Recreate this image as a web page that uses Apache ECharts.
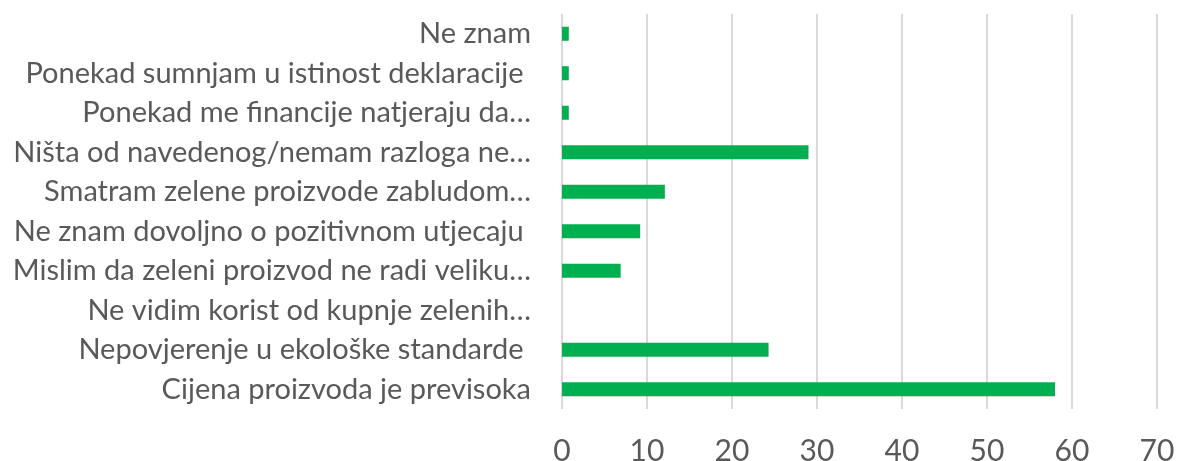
<!DOCTYPE html>
<html>
<head>
<meta charset="utf-8">
<script src="https://cdn.jsdelivr.net/npm/echarts@6/dist/echarts.min.js"></script>
<style>
  html, body { margin: 0; padding: 0; background: #fff; }
  #chart { width: 1181px; height: 461px; }
</style>
</head>
<body>
<div id="chart"></div>
<script>
// categories top to bottom, as in the picture
const categories = [
  'Ne znam',
  'Ponekad sumnjam u istinost deklaracije ',
  'Ponekad me financije natjeraju da…',
  'Ništa od navedenog/nemam razloga ne…',
  'Smatram zelene proizvode zabludom…',
  'Ne znam dovoljno o pozitivnom utjecaju ',
  'Mislim da zeleni proizvod ne radi veliku…',
  'Ne vidim korist od kupnje zelenih…',
  'Nepovjerenje u ekološke standarde ',
  'Cijena proizvoda je previsoka'
]
const values = [0.8, 0.8, 0.8, 29, 12.1, 9.2, 6.9, 0, 24.3, 58]
const ticks = { min: 0, max: 70, step: 10 }

const chart = echarts.init(document.getElementById('chart'))
const textColor = '#595959'
const font = 'Lato, "Liberation Sans", sans-serif'

chart.setOption({
  animation: false,
  grid: { left: 562, right: 24, top: 14, bottom: 52, containLabel: false, outerBoundsMode: 'none' },
  xAxis: {
    type: 'value',
    min: ticks.min,
    max: ticks.max,
    interval: ticks.step,
    axisLine: { show: false },
    axisTick: { show: false },
    axisLabel: { color: textColor, fontSize: 30, fontFamily: font, margin: 27 },
    splitLine: { show: true, lineStyle: { color: '#d9d9d9', width: 2 } }
  },
  yAxis: {
    type: 'category',
    inverse: true,
    data: categories,
    axisLine: { show: false },
    axisTick: { show: false },
    axisLabel: { color: textColor, fontSize: 29, fontFamily: font, margin: 31 }
  },
  series: [
    {
      type: 'bar',
      data: values,
      barWidth: 14,
      itemStyle: { color: '#00b050' }
    }
  ]
})
</script>
</body>
</html>
